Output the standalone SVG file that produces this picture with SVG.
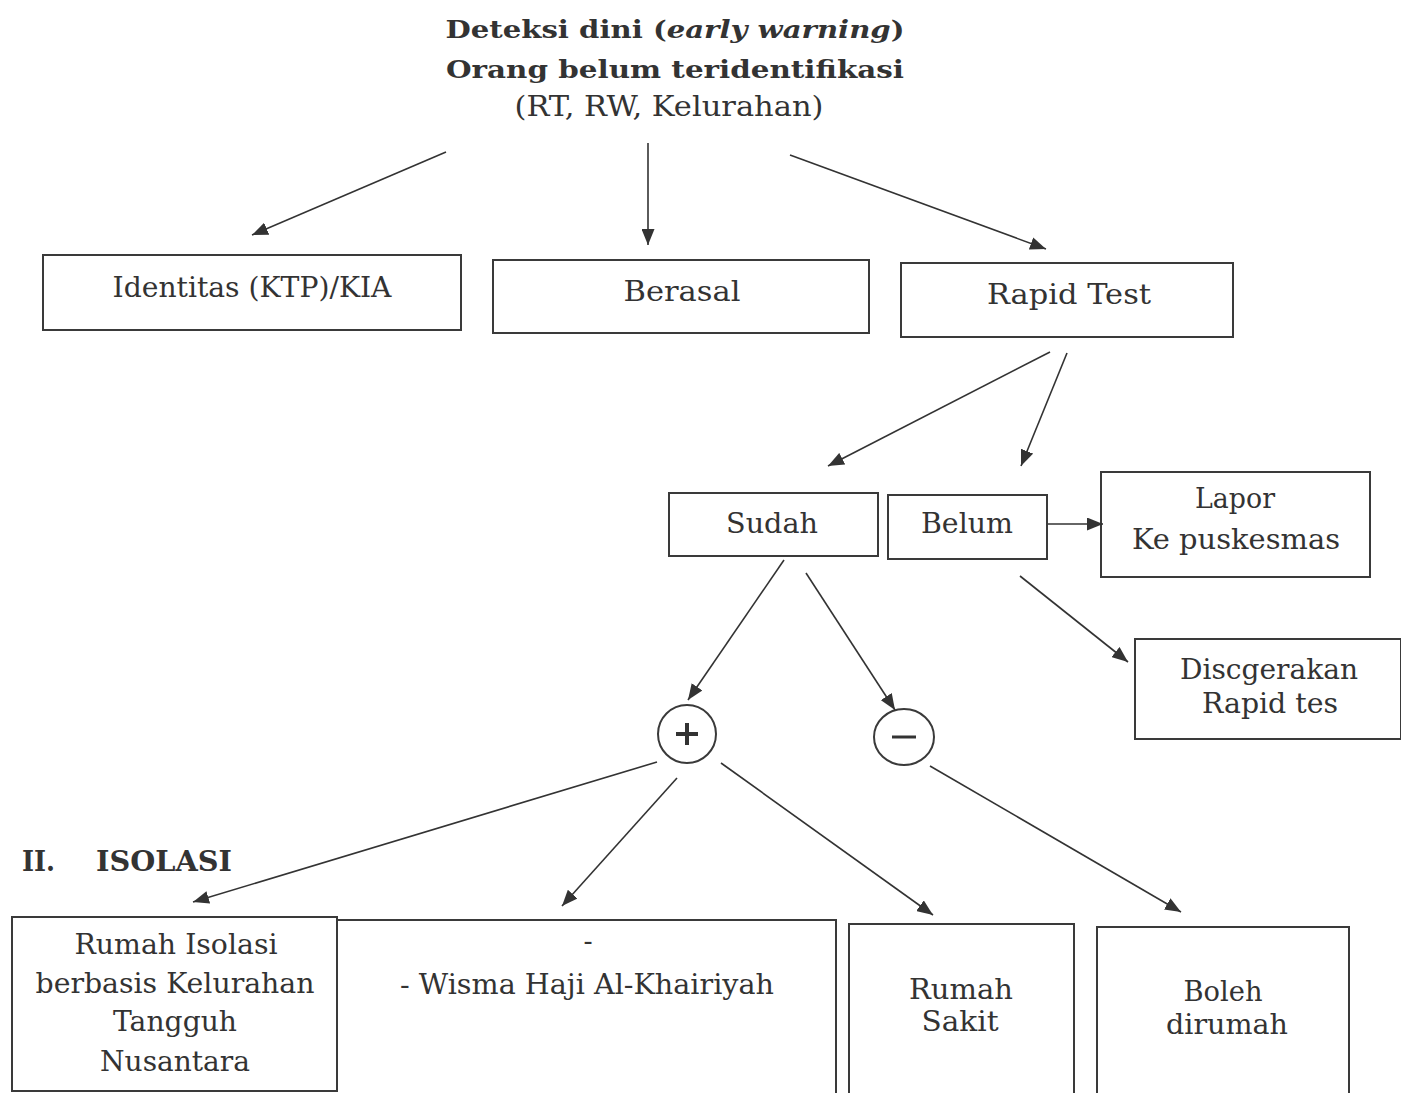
<svg xmlns="http://www.w3.org/2000/svg" width="1401" height="1093" viewBox="0 0 1401 1093">
<style>
text{font-family:"DejaVu Serif","Liberation Serif",serif;fill:#333;text-anchor:middle}
.t{font-size:27px}
.h{font-size:25px;font-weight:bold}
.box{fill:none;stroke:#3a3a3a;stroke-width:2}
.circ{fill:none;stroke:#3a3a3a;stroke-width:2}
.arr{stroke:#333;stroke-width:1.6;fill:none;marker-end:url(#ah)}
</style>
<defs>
<marker id="ah" markerUnits="userSpaceOnUse" markerWidth="17" markerHeight="13" refX="16" refY="6.5" orient="auto">
<path d="M0,0 L16,6.5 L0,13 z" fill="#333"/>
</marker>
</defs>
<rect width="1401" height="1093" fill="#fff"/>

<g id="title">
<text class="h" x="675" y="38" textLength="459" lengthAdjust="spacingAndGlyphs">Deteksi dini (<tspan font-style="italic">early warning</tspan>)</text>
<text class="h" x="675" y="78" textLength="458" lengthAdjust="spacingAndGlyphs">Orang belum teridentifikasi</text>
<text class="t" x="669" y="116" font-size="25" textLength="309" lengthAdjust="spacingAndGlyphs">(RT, RW, Kelurahan)</text>
</g>

<g id="identitas">
<rect class="box" x="43" y="255" width="418" height="75"/>
<text class="t" x="252" y="297" textLength="279" lengthAdjust="spacingAndGlyphs">Identitas (KTP)/KIA</text>
</g>
<g id="berasal">
<rect class="box" x="493" y="260" width="376" height="73"/>
<text class="t" x="682" y="301" textLength="117" lengthAdjust="spacingAndGlyphs">Berasal</text>
</g>
<g id="rapidtest">
<rect class="box" x="901" y="263" width="332" height="74"/>
<text class="t" x="1069" y="304" textLength="164" lengthAdjust="spacingAndGlyphs">Rapid Test</text>
</g>

<g id="sudah">
<rect class="box" x="669" y="493" width="209" height="63"/>
<text class="t" x="772" y="533" textLength="92" lengthAdjust="spacingAndGlyphs">Sudah</text>
</g>
<g id="belum">
<rect class="box" x="888" y="495" width="159" height="64"/>
<text class="t" x="967" y="533" textLength="92" lengthAdjust="spacingAndGlyphs">Belum</text>
</g>
<g id="lapor">
<rect class="box" x="1101" y="472" width="269" height="105"/>
<text class="t" x="1235" y="508" textLength="80" lengthAdjust="spacingAndGlyphs">Lapor</text>
<text class="t" x="1236" y="549" textLength="208" lengthAdjust="spacingAndGlyphs">Ke puskesmas</text>
</g>
<g id="disegerakan">
<rect class="box" x="1135" y="639" width="266" height="100"/>
<text class="t" x="1269" y="679" textLength="178" lengthAdjust="spacingAndGlyphs">Discgerakan</text>
<text class="t" x="1270" y="713" textLength="136" lengthAdjust="spacingAndGlyphs">Rapid tes</text>
</g>

<g id="positif">
<circle class="circ" cx="687" cy="734" r="29"/>
<path d="M676,734 H698 M687,723 V745" stroke="#333" stroke-width="4"/>
</g>
<g id="negatif">
<ellipse class="circ" cx="904" cy="737" rx="30" ry="28"/>
<path d="M892,737 H916" stroke="#333" stroke-width="3"/>
</g>

<g id="isolasi-label">
<text class="t" x="22" y="871" font-weight="bold" style="text-anchor:start" textLength="33" lengthAdjust="spacingAndGlyphs">II.</text>
<text class="t" x="96" y="871" font-weight="bold" style="text-anchor:start" textLength="136" lengthAdjust="spacingAndGlyphs">ISOLASI</text>
</g>

<g id="rumah-isolasi">
<rect class="box" x="12" y="917" width="325" height="174"/>
<text class="t" x="176" y="954" textLength="203" lengthAdjust="spacingAndGlyphs">Rumah Isolasi</text>
<text class="t" x="175" y="993" textLength="279" lengthAdjust="spacingAndGlyphs">berbasis Kelurahan</text>
<text class="t" x="175" y="1031" textLength="124" lengthAdjust="spacingAndGlyphs">Tangguh</text>
<text class="t" x="175" y="1071" textLength="150" lengthAdjust="spacingAndGlyphs">Nusantara</text>
</g>
<g id="wisma">
<path class="box" d="M337,920 H836 V1093"/>
<text class="t" x="588" y="950">-</text>
<text class="t" x="587" y="994" textLength="374" lengthAdjust="spacingAndGlyphs">- Wisma Haji Al-Khairiyah</text>
</g>
<g id="rumah-sakit">
<rect class="box" x="849" y="924" width="225" height="175"/>
<text class="t" x="961" y="999" textLength="104" lengthAdjust="spacingAndGlyphs">Rumah</text>
<text class="t" x="960" y="1031" textLength="77" lengthAdjust="spacingAndGlyphs">Sakit</text>
</g>
<g id="boleh-dirumah">
<rect class="box" x="1097" y="927" width="252" height="172"/>
<text class="t" x="1223" y="1001" textLength="79" lengthAdjust="spacingAndGlyphs">Boleh</text>
<text class="t" x="1227" y="1034" textLength="122" lengthAdjust="spacingAndGlyphs">dirumah</text>
</g>

<g id="connectors">
<line class="arr" x1="446" y1="152" x2="252" y2="235"/>
<line class="arr" x1="648" y1="143" x2="648" y2="245"/>
<line class="arr" x1="790" y1="155" x2="1046" y2="249"/>
<line class="arr" x1="1050" y1="352" x2="828" y2="466"/>
<line class="arr" x1="1067" y1="353" x2="1021" y2="466"/>
<line class="arr" x1="1048" y1="524" x2="1103" y2="524"/>
<line class="arr" x1="1020" y1="576" x2="1128" y2="662"/>
<line class="arr" x1="784" y1="560" x2="688" y2="700"/>
<line class="arr" x1="806" y1="573" x2="895" y2="710"/>
<line class="arr" x1="657" y1="762" x2="193" y2="902"/>
<line class="arr" x1="677" y1="778" x2="562" y2="906"/>
<line class="arr" x1="721" y1="763" x2="933" y2="915"/>
<line class="arr" x1="930" y1="766" x2="1181" y2="912"/>
</g>
</svg>
